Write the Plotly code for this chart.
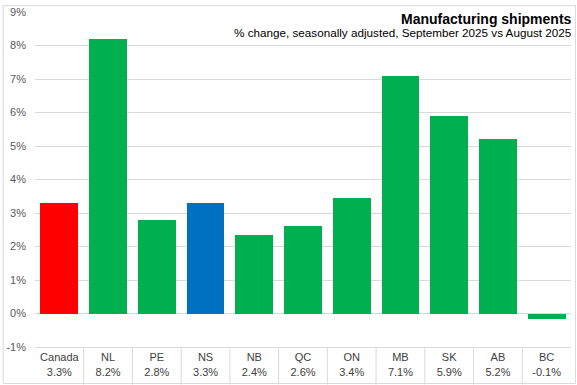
import plotly.graph_objects as go

categories = ["Canada", "NL", "PE", "NS", "NB", "QC", "ON", "MB", "SK", "AB", "BC"]
values = [3.3, 8.2, 2.8, 3.3, 2.35, 2.6, 3.45, 7.1, 5.9, 5.2, -0.15]
value_labels = ["3.3%", "8.2%", "2.8%", "3.3%", "2.4%", "2.6%", "3.4%", "7.1%", "5.9%", "5.2%", "-0.1%"]
bar_colors = ["#FF0000", "#00B050", "#00B050", "#0070C0", "#00B050", "#00B050",
              "#00B050", "#00B050", "#00B050", "#00B050", "#00B050"]
y_ticks = list(range(-1, 10))
y_tick_labels = [f"{t}%" for t in y_ticks]
title = "<b>Manufacturing shipments</b>"
subtitle = "% change, seasonally adjusted, September 2025 vs August 2025"

tick_text = [f"{c}<br>{v}" for c, v in zip(categories, value_labels)]

FONT = "Liberation Sans, Arial, sans-serif"
GRID = "#D9D9D9"

ML, MR, MT, MB = 32.5, 6, 7, 38
PW, PH = 577 - ML - MR, 385 - MT - MB

fig = go.Figure(go.Bar(
    x=list(range(len(categories))), y=values,
    marker=dict(color=bar_colors, line=dict(width=0)),
    width=0.776,
))

shapes = []
for i in range(1, len(categories)):
    shapes.append(dict(type="line", xref="x", yref="paper", x0=i - 0.5, x1=i - 0.5,
                       y0=0, y1=-MB / PH, line=dict(color=GRID, width=1)))
# outer border
shapes.append(dict(type="rect", xref="paper", yref="paper",
                   x0=-(ML - 0.5) / PW, x1=1 + (MR - 1.5) / PW, y0=-(MB - 1) / PH, y1=1 + (MT - 0.5) / PH,
                   line=dict(color=GRID, width=1)))

fig.update_layout(
    width=577, height=385,
    margin=dict(l=ML, r=MR, t=MT, b=MB),
    paper_bgcolor="white", plot_bgcolor="white",
    font=dict(family=FONT, size=11, color="#595959"),
    showlegend=False,
    bargap=0,
    shapes=shapes,
    xaxis=dict(
        tickmode="array", tickvals=list(range(len(categories))), ticktext=tick_text,
        range=[-0.5, len(categories) - 0.5],
        showgrid=False, zeroline=False, showline=True, linecolor=GRID, linewidth=1,
        ticks="", tickfont=dict(size=11, color="#404040"), fixedrange=True,
    ),
    yaxis=dict(
        range=[-1, 9], tickmode="array", tickvals=y_ticks, ticktext=y_tick_labels,
        showgrid=True, gridcolor=GRID, gridwidth=1,
        zeroline=True, zerolinecolor=GRID, zerolinewidth=1,
        showline=False, ticks="", ticklabelstandoff=8,
        tickfont=dict(size=11, color="#595959"),
    ),
    annotations=[
        dict(text=title, xref="paper", yref="paper", x=1, y=1 - 7 / PH, xshift=3,
             xanchor="right", yanchor="middle", showarrow=False,
             font=dict(family=FONT, size=14, color="#000000")),
        dict(text=subtitle, xref="paper", yref="paper", x=1, y=1 - 21 / PH, xshift=3,
             xanchor="right", yanchor="middle", showarrow=False,
             font=dict(family=FONT, size=11.7, color="#000000")),
    ],
)

fig.write_html("out.html", config={"displayModeBar": False},
               post_script="document.body.style.margin='0';document.body.style.overflow='hidden';")
